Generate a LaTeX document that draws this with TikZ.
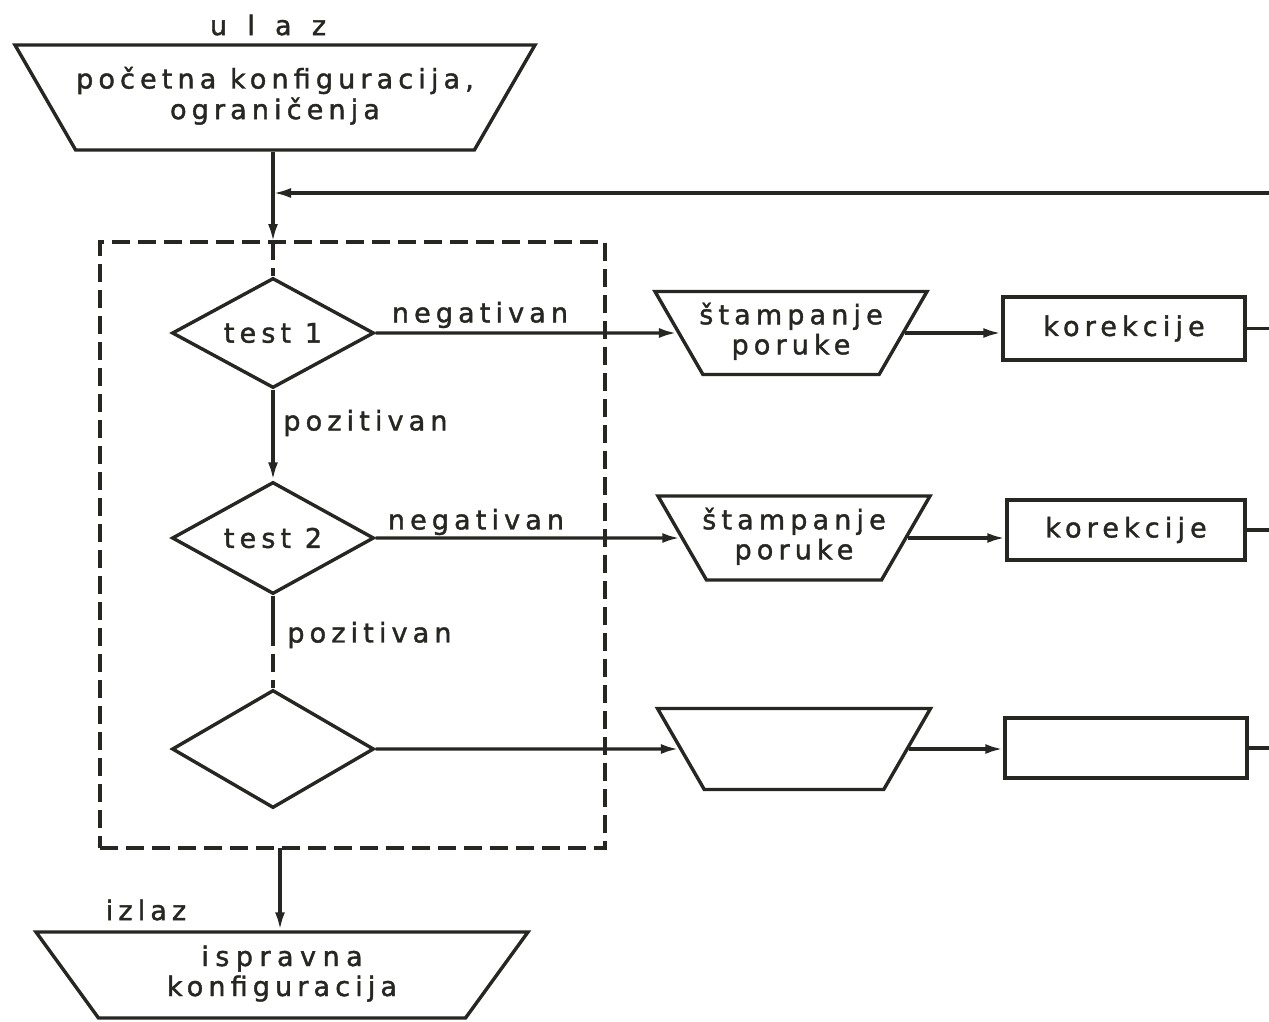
\documentclass[tikz,border=0pt]{standalone}
\usepackage{fontspec}
\setmainfont{DejaVu Sans}[LetterSpace=19, FakeBold=1.5]
\usetikzlibrary{shapes.geometric,arrows.meta}
\definecolor{ink}{RGB}{38,38,34}
% fixed-height text cell, so the trapezium height comes from the cell
\newcommand\tcell[2]{\parbox[c][#1][c]{0pt}{\makebox[0pt]{\begin{tabular}{@{}c@{}}#2\end{tabular}}}}

\begin{document}
\begin{tikzpicture}[x=0.5pt,y=-0.5pt,
  every node/.style={text=ink, font=\fontsize{13.5}{15}\selectfont},
  line/.style={draw=ink, line width=1.7pt},
  arr/.style={line, -{Latex[length=9pt,width=5pt]}},
  dashline/.style={line, dash pattern=on 9pt off 4pt},
  trap/.style={line, trapezium, shape border rotate=180, trapezium stretches body=true,
    inner sep=0pt, trapezium left angle=60, trapezium right angle=60},
  test/.style={line, diamond, aspect=2, inner sep=0pt, minimum width=101pt, minimum height=55pt},
  boxr/.style={line, rectangle, inner sep=0pt, minimum width=121pt, minimum height=31pt},
  frame/.style={dashline, rectangle, inner sep=0pt},
  lab/.style={inner sep=0pt}]
\useasboundingbox[fill=white] (0,0) rectangle (1269,1022);

% input and output
\node[trap, minimum width=260pt] (t0) at (275,97.5)
  {\tcell{52.5pt}{početna konfiguracija,\\ograničenja}};
\node[lab] (ulaz) at (268,25) {\addfontfeature{LetterSpace=75}ulaz};
\node[trap, minimum width=246pt, trapezium left angle=54,
  trapezium right angle=54] (tb) at (282,975)
  {\tcell{43pt}{{\addfontfeature{LetterSpace=24}ispravna}\\konfiguracija}};
\node[lab] (izlaz) at (146,910) {izlaz};

% group of tests
\node[frame, minimum width=252.5pt, minimum height=303pt] (grp) at (352.5,545) {};

\node[test] (d1) at (273,333) {test 1};
\node[test, minimum height=56pt] (d2) at (273,538) {test 2};
\node[test, minimum height=59pt] (d3) at (273,749) {\strut};

% message printing
\node[trap, minimum width=136pt] (t1) at (791,333)
  {\tcell{41.5pt}{štampanje\\poruke}};
\node[trap, minimum width=136pt] (t2) at (794,538)
  {\tcell{42pt}{štampanje\\poruke}};
\node[trap, minimum width=136.5pt] (t3) at (794,749) {\tcell{40.5pt}{}};

% corrections
\node[boxr, minimum height=31.5pt] (b1) at (1124,328.5) {korekcije};
\node[boxr, minimum width=119pt, minimum height=30pt] (b2) at (1126,530) {korekcije};
\node[boxr, minimum height=30pt] (b3) at (1126,748) {};

% helper points
\coordinate (edge) at (1269,193);
\coordinate (jn) at (273,193);
\coordinate (in) at (273,242);
\coordinate (mid) at (273,628);
\coordinate (out) at (280,848);

% main flow
\draw[line] (t0.south -| jn) -- (jn);
\draw[arr] (jn) -- (in);
\draw[dashline] (in) -- (d1.north);
\draw[arr] (d1.south) -- (d2.north);
\draw[line] (d2.south) -- (mid);
\draw[dashline] (mid) -- (d3.north);
\draw[arr] (out) -- (tb.north -| out);

% feedback
\draw[arr] (edge) -- (jn);

% negative branches
\draw[arr] (d1.east) -- (t1.west);
\draw[arr] (d2.east) -- (t2.west);
\draw[arr] (d3.east) -- (t3.west);
\draw[arr] (t1.east) -- (t1.east -| b1.west);
\draw[arr] (t2.east) -- (t2.east -| b2.west);
\draw[arr] (t3.east) -- (t3.east -| b3.west);
\draw[line] (b1.east) -- (b1.east -| edge);
\draw[line] (b2.east) -- (b2.east -| edge);
\draw[line] (b3.east) -- (b3.east -| edge);

% labels
\node[lab] (n1) at (480,315) {negativan};
\node[lab] (n2) at (476,522) {negativan};
\node[lab, anchor=west] (p1) at (283,423) {pozitivan};
\node[lab, anchor=west] (p2) at (287,635) {pozitivan};
\end{tikzpicture}
\end{document}
